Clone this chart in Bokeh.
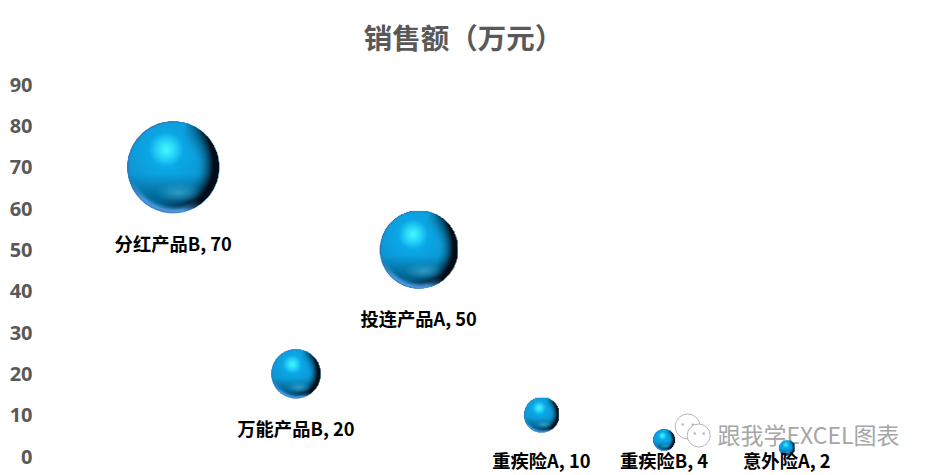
import numpy as np
from bokeh.plotting import figure
from bokeh.models import Range1d, Label, ColumnDataSource, FixedTicker
from bokeh.core.properties import value
from bokeh.embed import file_html
from bokeh.resources import INLINE

categories = ["分红产品B", "万能产品B", "投连产品A", "重疾险A", "重疾险B", "意外险A"]
sales = [70, 20, 50, 10, 4, 2]
x_pos = [1, 2, 3, 4, 5, 6]
y_ticks = [0, 10, 20, 30, 40, 50, 60, 70, 80, 90]
title_text = "销售额（万元）"
watermark = "跟我学EXCEL图表"

PX_PER_UNIT = 372 / 90
PX_PER_X = 122.6
BODY = "Noto Sans CJK SC"
WIDTH = 928
HEIGHT = 475


def sprite(n=256):
    c = (np.arange(n) + 0.5) / n * 2 - 1
    u, v = np.meshgrid(c, c)
    r = np.sqrt(u * u + v * v)
    col = np.ones((n, n, 3)) * np.array([14.0, 150.0, 210.0])
    def mix(target, a):
        nonlocal col
        a = np.clip(a, 0, 1)[..., None]
        col = col * (1 - a) + np.array(target, float) * a
    # broad brighter blue round the highlight
    d = np.hypot(u + 0.15, v - 0.35)
    mix([10, 175, 240], 1.15 - d * 1.2)
    # darker band in the lower part
    mix([0, 90, 135], np.clip((-v - 0.15) / 0.55, 0, 1) * 0.8)
    # dark limb towards the right and lower right
    side = np.clip((u * 0.92 - v * 0.30 + 0.05) / 0.85, 0, 1)
    mix([0, 12, 22], np.clip((r - 0.5) / 0.5, 0, 1) ** 1.6 * side * 1.6)
    # reflected light patch near the bottom
    d = np.hypot((u - 0.12) / 0.5, (v + 0.55) / 0.22)
    mix([50, 160, 200], (1 - d) * 0.9)
    # bright rim along the bottom
    rim = np.clip((r - 0.84) / 0.13, 0, 1) * np.clip((-v - 0.3) / 0.4, 0, 1) * np.clip((0.6 - u) / 0.4, 0, 1)
    mix([85, 170, 240], rim)
    # specular highlight
    d = np.hypot(u + 0.15, v - 0.38)
    mix([62, 242, 255], (1 - d / 0.38) * 1.15)
    # thin bluish rim on top
    rim2 = np.clip((r - 0.95) / 0.05, 0, 1) * np.clip((0.5 - u) / 0.6, 0, 1)
    mix([75, 95, 175], rim2 * 0.9)
    alpha = np.clip((1 - r) * n / 2, 0, 1)
    img = np.zeros((n, n), dtype=np.uint32)
    view = img.view(np.uint8).reshape((n, n, 4))
    view[..., 0:3] = np.clip(col, 0, 255).astype(np.uint8)
    view[..., 3] = (alpha * 255).astype(np.uint8)
    return img


p = figure(width=WIDTH, height=HEIGHT, output_backend="svg", toolbar_location=None,
           x_range=Range1d(0, 7),
           y_range=Range1d(-(HEIGHT - 456) / PX_PER_UNIT, 90 + 84 / PX_PER_UNIT),
           min_border_left=50, min_border_right=19, min_border_top=0, min_border_bottom=0,
           outline_line_color=None, background_fill_color="white", border_fill_color="white")
p.frame_width = 859
p.frame_height = HEIGHT
p.grid.visible = False
p.xaxis.visible = False
p.yaxis.ticker = FixedTicker(ticks=y_ticks)
p.yaxis.axis_line_color = None
p.yaxis.major_tick_line_color = None
p.yaxis.minor_tick_line_color = None
p.yaxis.major_label_text_font = "Open Sans"
p.yaxis.major_label_text_font_style = "bold"
p.yaxis.major_label_text_font_size = "20px"
p.yaxis.major_label_text_color = "#595959"
p.yaxis.major_label_standoff = 12

p.add_layout(Label(x=413, y=HEIGHT - 36, x_units="screen", y_units="screen", text=title_text,
                   text_font=BODY, text_font_style="bold", text_font_size="28.5px",
                   text_color="#595959", text_align="center", text_baseline="middle"))

# watermark, underneath the marks
p.add_layout(Label(x=667, y=HEIGHT - 433, x_units="screen", y_units="screen", text=watermark,
                   text_font=BODY, text_font_size="23px", text_color="#a6a6a6",
                   text_baseline="middle", text_align="left", level="underlay"))
def wx(px):
    return (np.array(px, float) - 50.4) / PX_PER_X
def wy(py):
    return (456 - np.array(py, float)) / PX_PER_UNIT
p.scatter(wx([687, 698]), wy([426, 435]), size=[25, 23], marker="circle",
          fill_color="white", line_color="#b5b5b5", line_width=1)
p.scatter(wx([682, 692, 694, 703]), wy([424, 424, 433, 433]), size=2.5, marker="circle",
          fill_color="#b5b5b5", line_color=None)

vals = np.array(sales, float)
radius = 5.5 * np.sqrt(vals)
label_y = np.maximum(vals - (radius + 29.5) / PX_PER_UNIT, -3 / PX_PER_UNIT)
src = ColumnDataSource(dict(x=x_pos, y=sales, size=2 * radius, ly=label_y,
                            label=[f"{c}, {s}" for c, s in zip(categories, sales)]))

p.scatter("x", "y", size="size", source=src, marker="circle", fill_color="#1698d4", line_color=None)
img = sprite()
for xv, yv, rv in zip(x_pos, sales, radius):
    p.image_rgba(image=[img], x=xv, y=yv, dw=2 * rv, dh=2 * rv,
                 dw_units="screen", dh_units="screen", anchor="center")
p.text("x", "ly", text="label", source=src, text_align="center", text_baseline="middle",
       text_font=value(BODY), text_font_style="bold", text_font_size="18.3px", text_color="black")

open("out.html", "w").write(file_html(p, INLINE))
